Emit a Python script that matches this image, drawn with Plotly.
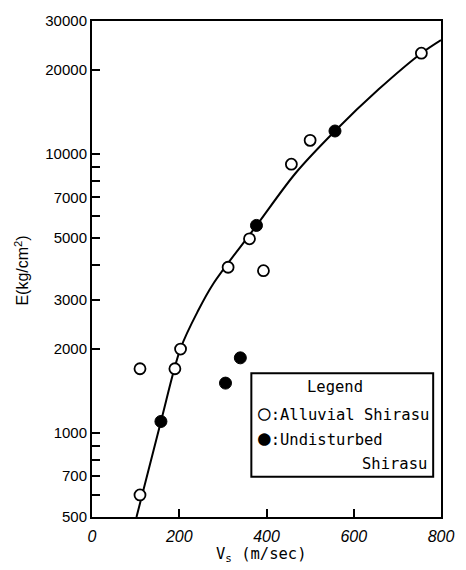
import plotly.graph_objects as go

# ---- data ----
alluvial_vs = [110, 190, 203, 110, 312, 361, 393, 457, 500, 755]
alluvial_E = [1700, 1700, 2000, 600, 3930, 4970, 3820, 9200, 11200, 23000]

undisturbed_vs = [158, 306, 340, 377, 557]
undisturbed_E = [1100, 1510, 1860, 5550, 12100]

curve_vs = [102, 158, 203, 244, 278, 377, 466, 557, 657, 755, 800]
curve_E = [500, 1100, 2010, 2760, 3430, 5540, 8520, 12100, 17070, 23000, 25650]

x_tick_vals = [0, 200, 400, 600, 800]
x_tick_text = ["0", "200", "400", "600", "800"]
y_tick_vals = [500, 700, 1000, 2000, 3000, 5000, 7000, 10000, 20000, 30000]
y_tick_text = ["500", "700", "1000", "2000", "3000", "5000", "7000", "10000", "20000", "30000"]
y_minor_vals = [600, 800, 900, 4000, 6000, 8000, 9000]

legend_title = "Legend"
legend_open = "<span style='font-size:21px'>○</span>:Alluvial Shirasu"
legend_filled = "<span style='font-size:21px'>●</span>:Undisturbed"
legend_filled2 = "Shirasu"

fig = go.Figure()

fig.add_trace(go.Scatter(
    x=curve_vs, y=curve_E, mode="lines",
    line=dict(color="black", width=2, shape="spline", smoothing=0.9),
    showlegend=False, hoverinfo="skip"))

fig.add_trace(go.Scatter(
    x=alluvial_vs, y=alluvial_E, mode="markers", name="Alluvial Shirasu",
    marker=dict(symbol="circle", size=11, color="white", line=dict(color="black", width=1.8)),
    showlegend=False))

fig.add_trace(go.Scatter(
    x=undisturbed_vs, y=undisturbed_E, mode="markers", name="Undisturbed Shirasu",
    marker=dict(symbol="circle", size=12, color="black", line=dict(color="black", width=1)),
    showlegend=False))

W, H = 466, 570
L, R, T, B = 92, 17, 13, 53
pw, ph = W - L - R, H - T - B


def px_x(p):
    return (p - L) / pw


def px_y(p):
    return (H - B - p) / ph


sans = "Liberation Sans, Arial, sans-serif"
mono = "DejaVu Sans Mono, monospace"

fig.update_layout(
    width=W, height=H,
    margin=dict(l=L, r=R, t=T, b=B, pad=0),
    paper_bgcolor="white", plot_bgcolor="white",
    font=dict(family=sans, color="black"),
    xaxis=dict(
        range=[0, 800], tickmode="array", tickvals=x_tick_vals, ticktext=x_tick_text,
        ticks="inside", ticklen=8, tickwidth=2, tickcolor="black",
        showline=True, linewidth=2, linecolor="black", mirror=True,
        showgrid=False, zeroline=False, ticklabelstandoff=4,
        tickfont=dict(size=16, style="italic", family=sans, color="black"),
    ),
    yaxis=dict(
        type="log", range=[2.69897, 4.4771213], tickmode="array",
        tickvals=y_tick_vals, ticktext=y_tick_text,
        ticks="inside", ticklen=8, tickwidth=2, tickcolor="black",
        showline=True, linewidth=2, linecolor="black", mirror=True,
        showgrid=False, zeroline=False,
        tickfont=dict(size=15, family=sans, color="black"),
        minor=dict(tickmode="array", tickvals=y_minor_vals, ticks="inside",
                   ticklen=8, tickwidth=2, tickcolor="black", showgrid=False),
    ),
    showlegend=False,
)

# legend box
fig.add_shape(type="rect", xref="paper", yref="paper",
              x0=px_x(255), x1=px_x(441), y0=px_y(476), y1=px_y(371),
              line=dict(color="black", width=2), fillcolor="white", layer="above")

fig.add_annotation(xref="paper", yref="paper", x=px_x(341), y=px_y(385),
                   text=legend_title, showarrow=False, xanchor="center", yanchor="middle",
                   font=dict(family=mono, size=15.5, color="black"))
fig.add_annotation(xref="paper", yref="paper", x=px_x(260), y=px_y(411),
                   text=legend_open, showarrow=False, xanchor="left", yanchor="middle",
                   font=dict(family=mono, size=15.5, color="black"))
fig.add_annotation(xref="paper", yref="paper", x=px_x(260), y=px_y(437),
                   text=legend_filled, showarrow=False, xanchor="left", yanchor="middle",
                   font=dict(family=mono, size=15.5, color="black"))
fig.add_annotation(xref="paper", yref="paper", x=px_x(437), y=px_y(463),
                   text=legend_filled2, showarrow=False, xanchor="right", yanchor="middle",
                   font=dict(family=mono, size=15.5, color="black"))

# axis titles
fig.add_annotation(xref="paper", yref="paper", x=px_x(265), y=px_y(556),
                   text="V<sub>s</sub> (m/sec)", showarrow=False, xanchor="center", yanchor="middle",
                   font=dict(family=mono, size=15.5, color="black"))
fig.add_annotation(xref="paper", yref="paper", x=px_x(20), y=px_y(267),
                   text="E(kg/cm<sup>2</sup>)", showarrow=False, xanchor="center", yanchor="middle",
                   textangle=-90, font=dict(family=sans, size=16, color="black"))

fig.write_html("out.html")
